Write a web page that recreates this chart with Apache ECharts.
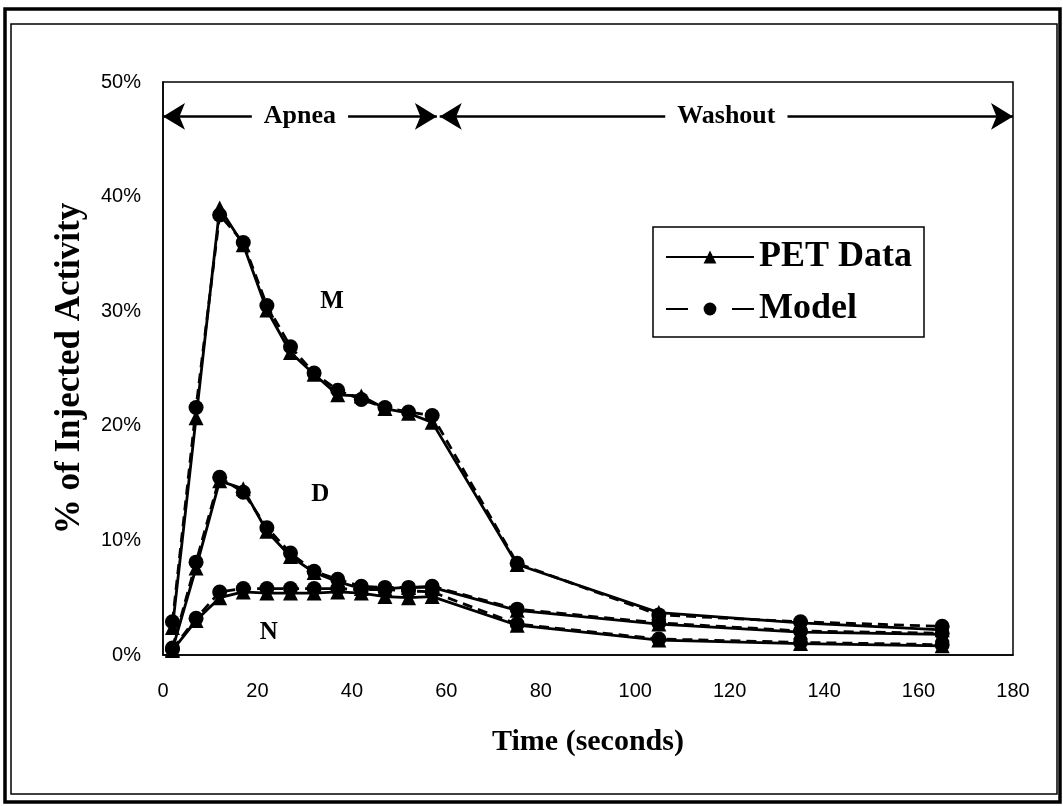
<!DOCTYPE html>
<html>
<head>
<meta charset="utf-8">
<script src="https://cdn.jsdelivr.net/npm/echarts@6/dist/echarts.min.js"></script>
<style>
html,body{margin:0;padding:0;background:#fff;}
#c{width:1063px;height:806px;}
</style>
</head>
<body>
<div id="c"></div>
<script>
// ---- data (time in seconds, values in % of injected activity) ----
const timeSec = [2, 7, 12, 17, 22, 27, 32, 37, 42, 47, 52, 57, 75, 105, 135, 165];
const mPET   = [2.4, 20.7, 39.0, 35.8, 30.1, 26.4, 24.5, 22.7, 22.6, 21.5, 21.1, 20.3, 7.9, 3.7, 2.8, 2.2];
const mModel = [2.9, 21.6, 38.4, 36.0, 30.5, 26.9, 24.6, 23.1, 22.3, 21.6, 21.2, 20.9, 8.0, 3.5, 2.9, 2.5];
const dPET   = [0.5, 7.6, 15.2, 14.5, 10.8, 8.6, 7.2, 6.4, 5.8, 5.8, 5.9, 5.9, 3.9, 2.7, 2.0, 1.8];
const dModel = [0.6, 8.1, 15.5, 14.2, 11.1, 8.9, 7.3, 6.6, 6.0, 5.9, 5.9, 6.0, 4.0, 2.8, 2.1, 1.9];
const nPET   = [0.4, 3.0, 5.0, 5.5, 5.4, 5.4, 5.4, 5.5, 5.4, 5.1, 5.0, 5.1, 2.6, 1.3, 1.0, 0.8];
const nModel = [0.5, 3.2, 5.5, 5.8, 5.8, 5.8, 5.8, 5.8, 5.7, 5.7, 5.6, 5.5, 2.7, 1.4, 1.1, 0.9];
const curveNames = ['M', 'D', 'N'];
const curveLabelX = [35.8, 33.3, 22.4];
const curveLabelY = [30.8, 14.0, 2.0];
const phaseNames = ['Apnea', 'Washout'];
const phaseStart = [0, 58.6];
const phaseEnd = [58, 180];
const phaseLevel = 47;
const yTicks = [0, 10, 20, 30, 40, 50];
const xTicks = [0, 20, 40, 60, 80, 100, 120, 140, 160, 180];

const SANS = "'Liberation Sans', Arial, sans-serif";
const SERIF = "'Liberation Serif', 'Times New Roman', serif";

const pair = arr => timeSec.map((t, i) => [t, arr[i]]);

function petSeries(arr) {
  return {
    name: 'PET Data', type: 'line', data: pair(arr),
    symbol: 'triangle', symbolSize: 15, showSymbol: true,
    lineStyle: { color: '#000', width: 2.8, type: 'solid' },
    itemStyle: { color: '#000' }, z: 3, animation: false
  };
}
function modelSeries(arr) {
  return {
    name: 'Model', type: 'line', data: pair(arr),
    symbol: 'circle', symbolSize: 15, showSymbol: true,
    lineStyle: { color: '#000', width: 2.8, type: [10, 6] },
    itemStyle: { color: '#000' }, z: 4, animation: false
  };
}

const series = [
  petSeries(mPET), modelSeries(mModel),
  petSeries(dPET), modelSeries(dModel),
  petSeries(nPET), modelSeries(nModel),
  {
    name: 'phases', type: 'line', data: [], silent: true, animation: false,
    markLine: {
      silent: true, animation: false,
      symbol: ['arrow', 'arrow'], symbolSize: [20, 22],
      lineStyle: { color: '#000', width: 2.5, type: 'solid' },
      label: { show: true, position: 'insideMiddle', formatter: '{b}', color: '#000',
               fontFamily: SERIF, fontWeight: 'bold', fontSize: 26,
               backgroundColor: '#fff', padding: [2, 12] },
      emphasis: { disabled: true },
      data: phaseNames.map((n, i) => [
        { name: n, coord: [phaseStart[i], phaseLevel] },
        { coord: [phaseEnd[i], phaseLevel] }
      ])
    }
  }
];

const baseGraphic = [
  { type: 'rect', shape: { x: 5, y: 9, width: 1055, height: 793 },
    style: { fill: 'none', stroke: '#000', lineWidth: 3.5 }, silent: true },
  { type: 'rect', shape: { x: 11, y: 24, width: 1046, height: 770 },
    style: { fill: 'none', stroke: '#000', lineWidth: 1.5 }, silent: true }
];

const chart = echarts.init(document.getElementById('c'), null, { renderer: 'canvas' });
chart.setOption({
  backgroundColor: '#fff',
  animation: false,
  graphic: baseGraphic,
  grid: { left: 163, right: 50, top: 82, bottom: 151, show: true,
          borderColor: '#000', borderWidth: 1.5, backgroundColor: 'transparent' },
  legend: {
    orient: 'vertical', left: 653, top: 227,
    padding: [12, 12, 10, 12], borderColor: '#000', borderWidth: 1.5,
    backgroundColor: '#fff',
    itemWidth: 88, itemHeight: 16, itemGap: 16,
    selectedMode: false,
    data: [
      { name: 'PET Data' },
      { name: 'Model', lineStyle: { type: [22, 44] } }
    ],
    textStyle: { fontFamily: SERIF, fontWeight: 'bold', fontSize: 36, color: '#000' }
  },
  xAxis: {
    type: 'value', min: xTicks[0], max: xTicks[xTicks.length - 1], interval: 20,
    name: 'Time (seconds)', nameLocation: 'middle', nameGap: 72,
    nameTextStyle: { fontFamily: SERIF, fontWeight: 'bold', fontSize: 30, color: '#000' },
    axisLine: { show: true, lineStyle: { color: '#000', width: 1.5 } },
    axisTick: { show: false },
    splitLine: { show: false },
    axisLabel: { color: '#000', fontFamily: SANS, fontSize: 20, margin: 26 }
  },
  yAxis: {
    type: 'value', min: yTicks[0], max: yTicks[yTicks.length - 1], interval: 10,
    name: '% of Injected Activity', nameLocation: 'middle', nameGap: 76,
    nameTextStyle: { fontFamily: SERIF, fontWeight: 'bold', fontSize: 35, color: '#000' },
    axisLine: { show: true, lineStyle: { color: '#000', width: 1.5 } },
    axisTick: { show: false },
    splitLine: { show: false },
    axisLabel: { color: '#000', fontFamily: SANS, fontSize: 20, margin: 22, formatter: '{value}%' }
  },
  series: series
});

// curve labels (M, D, N) placed through the chart's own coordinate conversion
const labelGraphic = curveNames.map((n, i) => {
  const p = chart.convertToPixel({ gridIndex: 0 }, [curveLabelX[i], curveLabelY[i]]);
  return {
    type: 'text', x: p[0], y: p[1], silent: true, z: 10,
    style: { text: n, fill: '#000', font: "bold 25px 'Liberation Serif', serif",
             align: 'center', verticalAlign: 'middle' }
  };
});
chart.setOption({ graphic: baseGraphic.concat(labelGraphic) });
</script>
</body>
</html>
